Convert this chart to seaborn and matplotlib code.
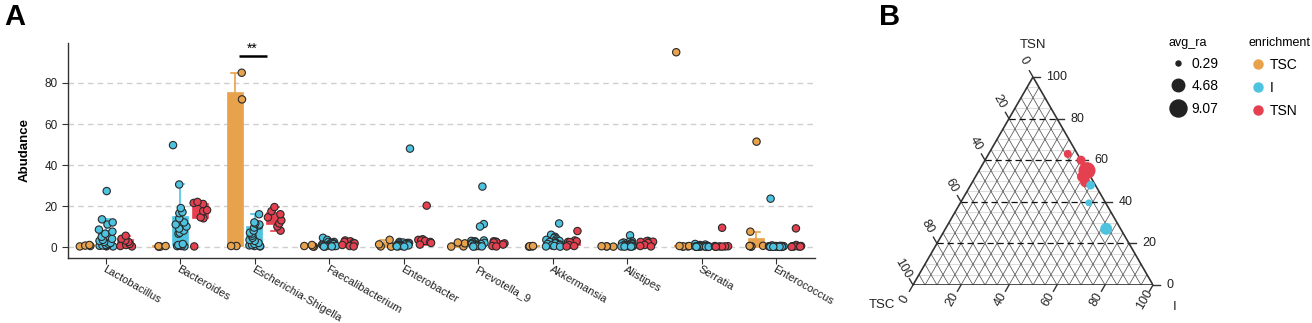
import numpy as np
import pandas as pd
import matplotlib
matplotlib.use("Agg")
import matplotlib.pyplot as plt
import seaborn as sns
from matplotlib.lines import Line2D

# ---------------- data: panel A ----------------
genera = ["Lactobacillus", "Bacteroides", "Escherichia-Shigella", "Faecalibacterium",
          "Enterobacter", "Prevotella_9", "Akkermansia", "Alistipes", "Serratia", "Enterococcus"]
groups = ["TSC", "I", "TSN"]
colors = ["#E8A24C", "#4EC3E0", "#E5404F"]

tsc_values = [
    [0.3, 0.5, 0.7, 1.0],
    [0.2, 0.2, 0.4, 0.5],
    [0.5, 0.5, 72.0, 85.0],
    [0.2, 0.3, 0.5, 1.0],
    [0.2, 0.3, 1.3, 3.5],
    [0.2, 0.3, 1.8, 2.2],
    [0.2, 0.3, 0.4, 0.5],
    [0.2, 0.3, 0.3, 0.4],
    [0.2, 0.3, 0.3, 0.5, 0.5, 95.0],
    [0.2, 0.3, 0.5, 0.5, 0.6, 7.5, 51.4],
]
i_values = [
    [0.3, 0.4, 0.5, 0.6, 0.8, 1.0, 1.5, 2.0, 2.5, 3.0, 3.5, 4.0, 5.0, 6.5, 7.5, 8.5, 11.0, 12.0, 13.5, 27.3],
    [0.3, 0.5, 0.5, 0.5, 0.8, 1.0, 1.5, 6.5, 7.0, 8.0, 9.0, 10.0, 11.0, 12.0, 14.0, 16.5, 17.0, 19.0, 30.5, 49.7],
    [0.3, 0.5, 0.5, 0.8, 1.0, 1.5, 2.0, 3.0, 3.5, 4.5, 5.5, 6.5, 7.0, 8.0, 9.5, 10.5, 11.0, 11.5, 12.0, 16.0],
    [4.5, 3.5, 2.5, 2.5, 2.0, 2.0, 1.5, 1.5, 1.2, 1.0, 1.0, 0.8, 0.8, 0.6, 0.5, 0.5, 0.4, 0.3, 0.3, 0.2],
    [48.0, 2.5, 2.2, 2.0, 2.0, 1.8, 1.5, 1.5, 1.2, 1.2, 1.0, 1.0, 0.8, 0.8, 0.6, 0.5, 0.5, 0.4, 0.3, 0.2],
    [29.5, 11.2, 10.0, 3.2, 3.0, 2.8, 2.5, 2.2, 2.0, 1.8, 1.5, 1.5, 1.2, 1.0, 0.8, 0.6, 0.5, 0.4, 0.3, 0.2],
    [11.5, 6.0, 5.0, 4.5, 4.0, 3.5, 3.2, 3.0, 2.8, 2.5, 2.2, 2.0, 1.8, 1.5, 1.2, 1.0, 0.8, 0.5, 0.3, 0.2],
    [5.7, 2.8, 2.5, 2.2, 2.0, 1.8, 1.5, 1.2, 1.0, 1.0, 0.8, 0.8, 0.6, 0.5, 0.5, 0.4, 0.3, 0.3, 0.2, 0.2],
    [1.5, 1.2, 1.0, 0.8, 0.6, 0.5, 0.5, 0.4, 0.4, 0.3, 0.3, 0.3, 0.2, 0.2, 0.2, 0.1, 0.1, 0.1, 0.1, 0.1],
    [23.6, 0.8, 0.6, 0.5, 0.5, 0.4, 0.4, 0.3, 0.3, 0.3, 0.2, 0.2, 0.2, 0.2, 0.1, 0.1, 0.1, 0.1, 0.1, 0.1],
]
tsn_values = [
    [0.3, 0.5, 1.0, 1.5, 2.5, 3.2, 4.0, 5.5],
    [0.3, 14.0, 14.5, 17.5, 18.0, 21.0, 21.5, 22.0],
    [8.0, 10.0, 11.5, 13.0, 14.5, 16.0, 17.5, 19.5],
    [3.2, 2.8, 2.5, 2.0, 1.8, 1.0, 0.5, 0.3],
    [20.2, 3.8, 3.5, 3.2, 3.0, 2.5, 2.0, 1.2],
    [2.8, 2.6, 2.4, 2.2, 1.8, 1.2, 0.5, 0.3],
    [7.8, 3.2, 2.8, 2.5, 2.4, 1.0, 0.5, 0.3],
    [3.0, 2.8, 2.6, 2.5, 2.0, 1.0, 0.5, 0.3],
    [9.4, 0.5, 0.4, 0.3, 0.3, 0.2, 0.2, 0.1],
    [9.1, 1.0, 0.5, 0.4, 0.3, 0.3, 0.2, 0.1],
]
y_ticks = [0, 20, 40, 60, 80]
signif_label = "**"

# ---------------- data: panel B (ternary) ----------------
tern_tsc = [0.04, 0.00, 0.00, 0.035, 0.035, 0.02, 0.07, 0.06]
tern_i = [0.33, 0.40, 0.45, 0.445, 0.47, 0.50, 0.535, 0.67]
tern_tsn = [0.63, 0.60, 0.55, 0.52, 0.495, 0.48, 0.395, 0.27]
tern_avg = [1.6, 2.2, 9.07, 3.0, 3.0, 2.0, 1.0, 4.2]
tern_enrich = ["TSN", "TSN", "TSN", "TSN", "TSN", "I", "I", "I"]
legend_sizes = [0.29, 4.68, 9.07]

# ---------------- build tables ----------------
rows = []
for gi, gen in enumerate(genera):
    for grp, vals in zip(groups, [tsc_values[gi], i_values[gi], tsn_values[gi]]):
        for v in vals:
            rows.append((gen, grp, v))
df = pd.DataFrame(rows, columns=["genus", "group", "value"])
palette = dict(zip(groups, colors))

plt.rcParams["font.family"] = ["Liberation Sans", "DejaVu Sans"]
W, H = 1312, 323
fig = plt.figure(figsize=(W / 100, H / 100), dpi=100)

# ---------------- panel A ----------------
ax = fig.add_axes([68 / W, 1 - 257.5 / H, (815 - 68) / W, (257.5 - 43) / H])
sns.boxplot(data=df, x="genus", y="value", hue="group",
            order=genera, hue_order=groups, palette=palette,
            showfliers=False, width=0.8, gap=0.25, linewidth=1.2, saturation=1,
            legend=False, ax=ax)
for cont, g in zip(ax.containers, groups):
    col = palette[g]
    for art in list(cont.whiskers) + list(cont.caps) + list(cont.medians):
        art.set_color(col)
    for b in cont.boxes:
        b.set_edgecolor(col)
        b.set_facecolor(col)

np.random.seed(7)
sns.stripplot(data=df, x="genus", y="value", hue="group", order=genera, hue_order=groups,
              palette=palette, dodge=True, jitter=0.3, size=5.3, linewidth=0.8,
              edgecolor="#2a2a2a", legend=False, ax=ax, zorder=3)

ax.set_xlim(-0.51, 9.52)
ax.set_ylim(-5.1, 99.5)
ax.set_yticks(y_ticks)
ax.yaxis.grid(True, linestyle=(0, (4, 3)), color="#cfcfcf", linewidth=1)
ax.xaxis.grid(False)
ax.set_axisbelow(True)
for s in ["top", "right"]:
    ax.spines[s].set_visible(False)
for s in ["left", "bottom"]:
    ax.spines[s].set_color("#333333")
    ax.spines[s].set_linewidth(1)
ax.tick_params(axis="both", colors="#333333", labelcolor="#222222", labelsize=8.5, length=4)
ax.tick_params(axis="x", pad=1, labelsize=8)
ax.set_xlabel("")
ax.set_ylabel("Abudance", fontsize=9.5, fontweight="bold", labelpad=10)
plt.setp(ax.get_xticklabels(), rotation=-30, ha="left", va="top", rotation_mode="anchor")

ax.plot([2 - 0.22, 2 + 0.16], [93, 93], color="black", lw=1.8, solid_capstyle="butt")
ax.text(2 - 0.03, 93.5, signif_label, ha="center", va="bottom", fontsize=10)

fig.text(4 / W, 1 - 3 / H, "A", fontsize=21, fontweight="bold", va="top", ha="left")
fig.text(879 / W, 1 - 3 / H, "B", fontsize=21, fontweight="bold", va="top", ha="left")

# ---------------- panel B: ternary ----------------
h = np.sqrt(3) / 2
tax = fig.add_axes([913 / W, 1 - 285 / H, 240 / W, 208 / H])
tax.set_xlim(0, 1)
tax.set_ylim(0, h)
tax.axis("off")


def proj(tsc, i, tsn):
    tsc, i, tsn = np.asarray(tsc, float), np.asarray(i, float), np.asarray(tsn, float)
    tot = tsc + i + tsn
    return (i + tsn / 2) / tot, (tsn * h) / tot


steps = np.round(np.arange(0.05, 1.0, 0.05), 2)
for v in steps:
    major = abs(v * 5 - round(v * 5)) < 1e-6
    x0, y0 = proj(1 - v, 0, v)
    x1, y1 = proj(0, 1 - v, v)
    if major:
        tax.plot([x0, x1], [y0, y1], color="#111111", lw=0.9, ls=(0, (5, 3)), zorder=2)
    else:
        tax.plot([x0, x1], [y0, y1], color="#d6d6d6", lw=0.6, zorder=1)
    x0, y0 = proj(1 - v, v, 0)
    x1, y1 = proj(0, v, 1 - v)
    tax.plot([x0, x1], [y0, y1], color="#555555", lw=0.55, zorder=1.5)
    x0, y0 = proj(v, 1 - v, 0)
    x1, y1 = proj(v, 0, 1 - v)
    tax.plot([x0, x1], [y0, y1], color="#555555", lw=0.55, zorder=1.5)

bx, by = proj([1, 0, 0, 1], [0, 1, 0, 0], [0, 0, 1, 0])
tax.plot(bx, by, color="#333333", lw=1.2, zorder=3, solid_joinstyle="miter")

tl = 0.03
tick_vals = [0, 20, 40, 60, 80, 100]
for tv in tick_vals:
    v = tv / 100
    x, y = proj(0, 1 - v, v)
    tax.plot([x, x + tl], [y, y], color="#333333", lw=1, clip_on=False)
    tax.text(x + tl + 0.025, y, str(tv), ha="left", va="center", fontsize=9, color="#222222")
    x, y = proj(v, 0, 1 - v)
    dx, dy = -0.5, h
    tax.plot([x, x + dx * tl], [y, y + dy * tl], color="#333333", lw=1, clip_on=False)
    tax.text(x + dx * 0.08, y + dy * 0.08, str(tv), ha="center", va="center",
             fontsize=9, rotation=-60, color="#222222")
    x, y = proj(1 - v, v, 0)
    dx, dy = -0.5, -h
    tax.plot([x, x + dx * tl], [y, y + dy * tl], color="#333333", lw=1, clip_on=False)
    tax.text(x + dx * 0.07, y + dy * 0.07, str(tv), ha="center", va="center",
             fontsize=9, rotation=60, color="#222222")

tax.text(0.5, 1.0, "TSN", ha="center", va="center", fontsize=9.5, color="#222222")
tax.text(-0.13, -0.085, "TSC", ha="center", va="center", fontsize=9.5, color="#222222")
tax.text(1.09, -0.09, "I", ha="center", va="center", fontsize=9.5, color="#222222")

tx, ty = proj(tern_tsc, tern_i, tern_tsn)
tdf = pd.DataFrame({"x": tx, "y": ty, "enrichment": tern_enrich, "avg_ra": tern_avg})
s_min, s_max = 13, 150
sns.scatterplot(data=tdf, x="x", y="y", hue="enrichment", hue_order=groups, palette=palette,
                size="avg_ra", sizes=(s_min, s_max), size_norm=(0.29, 9.07),
                linewidth=0, legend=False, ax=tax, zorder=5, clip_on=False)
tax.set_xlim(0, 1)
tax.set_ylim(0, h)
tax.set_xlabel("")
tax.set_ylabel("")


def size_of(v):
    return s_min + (v - 0.29) / (9.07 - 0.29) * (s_max - s_min)


h1 = [Line2D([], [], marker="o", ls="", color="#222222", markersize=np.sqrt(size_of(v)))
      for v in legend_sizes]
leg1 = fig.legend(h1, [f"{v:.2f}" for v in legend_sizes], title="avg_ra",
                  loc="upper left", bbox_to_anchor=(1163 / W, 1 - 31 / H), frameon=False,
                  fontsize=10, title_fontsize=9, alignment="left", labelspacing=0.6,
                  handletextpad=0.35, handlelength=1.3, borderaxespad=0)
h2 = [Line2D([], [], marker="o", ls="", color=c, markersize=6.5) for c in colors]
leg2 = fig.legend(h2, groups, title="enrichment", loc="upper left",
                  bbox_to_anchor=(1243 / W, 1 - 31 / H), frameon=False, fontsize=10,
                  title_fontsize=9, alignment="left", labelspacing=0.65,
                  handletextpad=0.2, handlelength=1.3, borderaxespad=0)

fig.savefig("out.png", dpi=100)
